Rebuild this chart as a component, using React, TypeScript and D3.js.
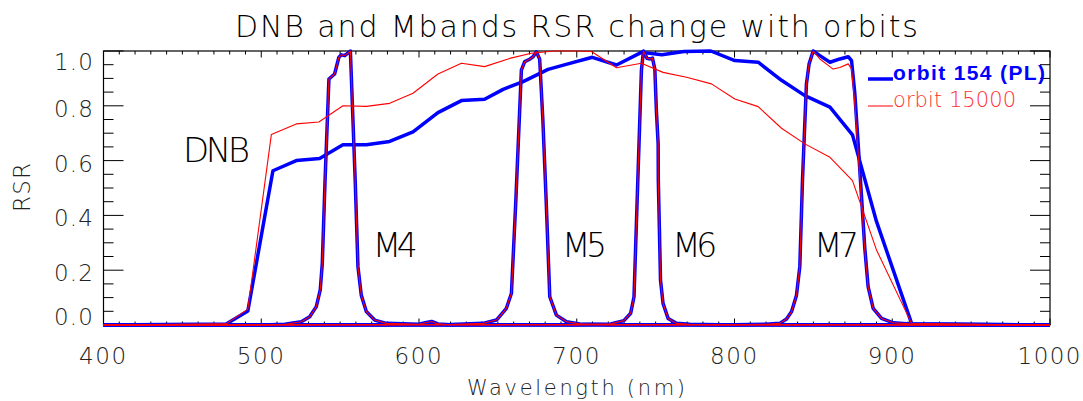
import React from 'react';
import * as d3 from 'd3';

type Pt = [number, number];

// wavelength (nm), relative spectral response
const dnbOrbit154: Pt[] = [
  [400, 0], [477.8, 0.004], [491.5, 0.051], [507.4, 0.563], [522.2, 0.6], [537, 0.608],
  [551.8, 0.658], [566.6, 0.658], [581.4, 0.67], [596.2, 0.705], [612, 0.775], [626.9, 0.819],
  [641.6, 0.824], [653.3, 0.86], [666, 0.888], [681.8, 0.933], [695.6, 0.955], [709.9, 0.977],
  [725.2, 0.949], [741, 0.995], [754, 0.986], [768, 0.998], [785, 1.0], [800.2, 0.965],
  [815, 0.959], [829.8, 0.893], [844.6, 0.837], [860.5, 0.795], [874.8, 0.694], [890, 0.378],
  [912.3, 0.005], [1000, 0],
];

const dnbOrbit15000: Pt[] = [
  [400, 0], [477.8, 0.004], [491.5, 0.058], [506.4, 0.695], [522.2, 0.734], [536.5, 0.741],
  [551.8, 0.8], [566.6, 0.798], [581.4, 0.809], [596.2, 0.846], [612, 0.916], [626.9, 0.955],
  [641.6, 0.943], [657.5, 0.973], [671.2, 0.992], [686, 1.0], [700, 1.0], [709.3, 0.998],
  [725.2, 0.939], [741, 0.955], [754.7, 0.922], [769.6, 0.904], [785.4, 0.88], [800.2, 0.825],
  [815, 0.797], [829.8, 0.718], [844.6, 0.661], [860.5, 0.612], [874.8, 0.527], [890, 0.274],
  [912.3, 0.005], [1000, 0],
];

const m4: Pt[] = [
  [400, 0], [500, 0], [515, 0.003], [525.4, 0.012], [530.7, 0.03], [534.9, 0.067], [537.4, 0.128],
  [538.7, 0.225], [540.4, 0.52], [542.9, 0.898], [546.5, 0.916], [549.2, 0.977], [550.8, 0.986],
  [552.9, 0.983], [554.9, 0.992], [556.5, 1.0], [559.6, 0.52], [561.3, 0.213], [563.4, 0.109],
  [566.6, 0.049], [571.9, 0.018], [579.3, 0.006], [600, 0.003], [604, 0.008], [608, 0.013],
  [612, 0.004], [620, 0.001], [1000, 0],
];

const m5: Pt[] = [
  [400, 0], [620, 0.002], [640.6, 0.006], [649.1, 0.018], [655.4, 0.061], [658.6, 0.116],
  [661.4, 0.456], [664.9, 0.93], [667, 0.961], [670.2, 0.97], [672.3, 0.979], [674.4, 0.997],
  [676.5, 0.97], [678.5, 0.75], [680.6, 0.456], [682.9, 0.103], [687.1, 0.036], [693.5, 0.012],
  [701.9, 0.004], [720, 0.001], [1000, 0],
];

const m6: Pt[] = [
  [400, 0], [700, 0.001], [721.5, 0.004], [729.9, 0.016], [734.2, 0.043], [736.3, 0.103],
  [738.3, 0.456], [741, 0.93], [742.3, 1.0], [744.6, 0.973], [746.5, 0.971], [748, 0.974],
  [749.5, 0.934], [750.5, 0.78], [751.6, 0.66], [751.7, 0.529], [752.4, 0.347], [753.1, 0.164],
  [754.7, 0.079], [757.9, 0.024], [763.2, 0.006], [771.7, 0.003], [790, 0.001], [1000, 0],
];

const m7Orbit154: Pt[] = [
  [400, 0], [800, 0.001], [820, 0.003], [828.7, 0.006], [833, 0.022], [836.2, 0.049],
  [839.3, 0.109], [841.4, 0.213], [843.1, 0.529], [845.6, 0.88], [847.3, 0.953], [849.9, 1.0],
  [854.1, 0.983], [860.5, 0.959], [866.8, 0.971], [872.1, 0.979], [874.2, 0.965], [876.3, 0.843],
  [878.5, 0.65], [880.6, 0.46], [882.6, 0.28], [884.7, 0.14], [887.9, 0.061], [893.2, 0.024],
  [900.6, 0.008], [911.2, 0.004], [1000, 0],
];

const m7Orbit15000: Pt[] = [
  [400, 0], [800, 0.001], [820, 0.003], [828.7, 0.006], [833, 0.022], [836.2, 0.049],
  [839.3, 0.109], [841.4, 0.213], [843.1, 0.529], [845.6, 0.88], [847.3, 0.953], [849.9, 1.0],
  [854.1, 0.971], [862.5, 0.934], [866.8, 0.94], [872.1, 0.953], [874.2, 0.934], [876.3, 0.807],
  [878.4, 0.624], [880.4, 0.46], [882.5, 0.28], [884.7, 0.14], [887.9, 0.061], [893.2, 0.024],
  [900.6, 0.008], [911.2, 0.004], [1000, 0],
];

const xTicks = [400, 500, 600, 700, 800, 900, 1000];
const yTicks = [0, 0.2, 0.4, 0.6, 0.8, 1.0];
const xMinorStep = 10;
const yMinorStep = 0.05;

const bandNames = ['DNB', 'M4', 'M5', 'M6', 'M7'];
const legendLabels = ['orbit 154 (PL)', 'orbit 15000'];

const W = 1083;
const H = 401;
const margin = { left: 103.5, right: 33, top: 51, bottom: 76 };
const font = "'DejaVu Sans ExtraLight', 'DejaVu Sans Light', 'Liberation Sans', Arial, sans-serif";
const boldFont = "'Liberation Sans', Arial, sans-serif";

// where each band name sits (x in px, baseline y in px)
const bandLabelPos: Record<string, { x: number; y: number; size: number; len: number }> = {
  DNB: { x: 183, y: 161.7, size: 34, len: 67 },
  M4: { x: 372.7, y: 257.3, size: 33, len: 45 },
  M5: { x: 562, y: 257.3, size: 33, len: 45 },
  M6: { x: 672.3, y: 257.3, size: 33, len: 45 },
  M7: { x: 814, y: 257.3, size: 33, len: 45 },
};

const App = () => {
  const x = d3.scaleLinear().domain([400, 1000]).range([margin.left, W - margin.right]);
  const y = d3.scaleLinear().domain([0, 1]).range([H - margin.bottom, margin.top]);
  const line = d3.line<Pt>().x(d => x(d[0])).y(d => y(d[1]));

  const x0 = x.range()[0], x1 = x.range()[1];
  const y0 = y.range()[0], y1 = y.range()[1];

  const xMinor = d3.range(400, 1000 + 0.001, xMinorStep);
  const yMinor = d3.range(0, 1 + 0.0001, yMinorStep);

  const blueCurves = [dnbOrbit154, m4, m5, m6, m7Orbit154];
  const redCurves = [dnbOrbit15000, m4, m5, m6, m7Orbit15000];

  const yLabelShift = (v: number) => (v === 1 ? 19 : v === 0 ? 0 : 11);

  return (
    <svg width={W} height={H} style={{ position: 'absolute', left: 0, top: 0, background: '#fff' }}>
      <rect width={W} height={H} fill="#fff" />

      <text x={235} y={37} fontFamily={font} fontSize={30} textLength={683} lengthAdjust="spacing" fill="#000">
        DNB and Mbands RSR change with orbits
      </text>

      {/* ticks */}
      <g stroke="#000" strokeWidth={1}>
        {xMinor.map(v => {
          const major = xTicks.includes(Math.round(v));
          const len = major ? 6.5 : 3.5;
          return (
            <g key={'xt' + v}>
              <line x1={x(v)} x2={x(v)} y1={y0} y2={y0 - len} />
              <line x1={x(v)} x2={x(v)} y1={y1} y2={y1 + len} />
            </g>
          );
        })}
        {yMinor.map(v => {
          const major = yTicks.some(t => Math.abs(t - v) < 1e-6);
          const len = major ? 20 : 10;
          return (
            <g key={'yt' + v}>
              <line x1={x0} x2={x0 + len} y1={y(v)} y2={y(v)} />
              <line x1={x1} x2={x1 - len} y1={y(v)} y2={y(v)} />
            </g>
          );
        })}
      </g>
      <rect x={x0} y={y1} width={x1 - x0} height={y0 - y1} fill="none" stroke="#000" strokeWidth={1.2} />

      {/* tick labels */}
      {xTicks.map(v => (
        <text key={'xl' + v} x={x(v) - 1} y={363.5} textAnchor="middle" fontFamily={font} fontSize={23}
          textLength={String(v).length * 15.7} lengthAdjust="spacing" fill="#222">
          {v}
        </text>
      ))}
      {yTicks.map(v => (
        <text key={'yl' + v} x={93} y={y(v) + yLabelShift(v)} textAnchor="end" fontFamily={font} fontSize={23}
          textLength={39} lengthAdjust="spacing" fill="#222">
          {v.toFixed(1)}
        </text>
      ))}

      <text x={576} y={395} textAnchor="middle" fontFamily={font} fontSize={21} textLength={218}
        lengthAdjust="spacing" fill="#222">
        Wavelength (nm)
      </text>
      <text transform="translate(30,187.5) rotate(-90)" textAnchor="middle" fontFamily={font} fontSize={23}
        textLength={49} lengthAdjust="spacing" fill="#222">
        RSR
      </text>

      {/* curves */}
      {blueCurves.map((c, i) => (
        <path key={'b' + i} d={line(c) || ''} fill="none" stroke="#0000ff" strokeWidth={3.5}
          strokeLinejoin="round" />
      ))}
      {redCurves.map((c, i) => (
        <path key={'r' + i} d={line(c) || ''} fill="none" stroke="#ff0000" strokeWidth={1.1}
          strokeLinejoin="round" />
      ))}

      {/* band names */}
      {bandNames.map(n => {
        const p = bandLabelPos[n];
        return (
          <text key={n} x={p.x} y={p.y} fontFamily={font} fontSize={p.size} textLength={p.len}
            lengthAdjust="spacing" fill="#000">
            {n}
          </text>
        );
      })}

      {/* legend */}
      <line x1={868} x2={893} y1={79} y2={79} stroke="#0000ff" strokeWidth={3.5} />
      <text x={893} y={80} fontFamily={boldFont} fontSize={21} fontWeight="bold" fill="#0000ff"
        textLength={152} lengthAdjust="spacing">
        {legendLabels[0]}
      </text>
      <line x1={868} x2={893} y1={106} y2={106} stroke="#ff0000" strokeWidth={1} />
      <text x={893} y={107.3} fontFamily={font} fontSize={21} fill="#ff3030"
        textLength={123} lengthAdjust="spacing">
        {legendLabels[1]}
      </text>
    </svg>
  );
};

export default App;
